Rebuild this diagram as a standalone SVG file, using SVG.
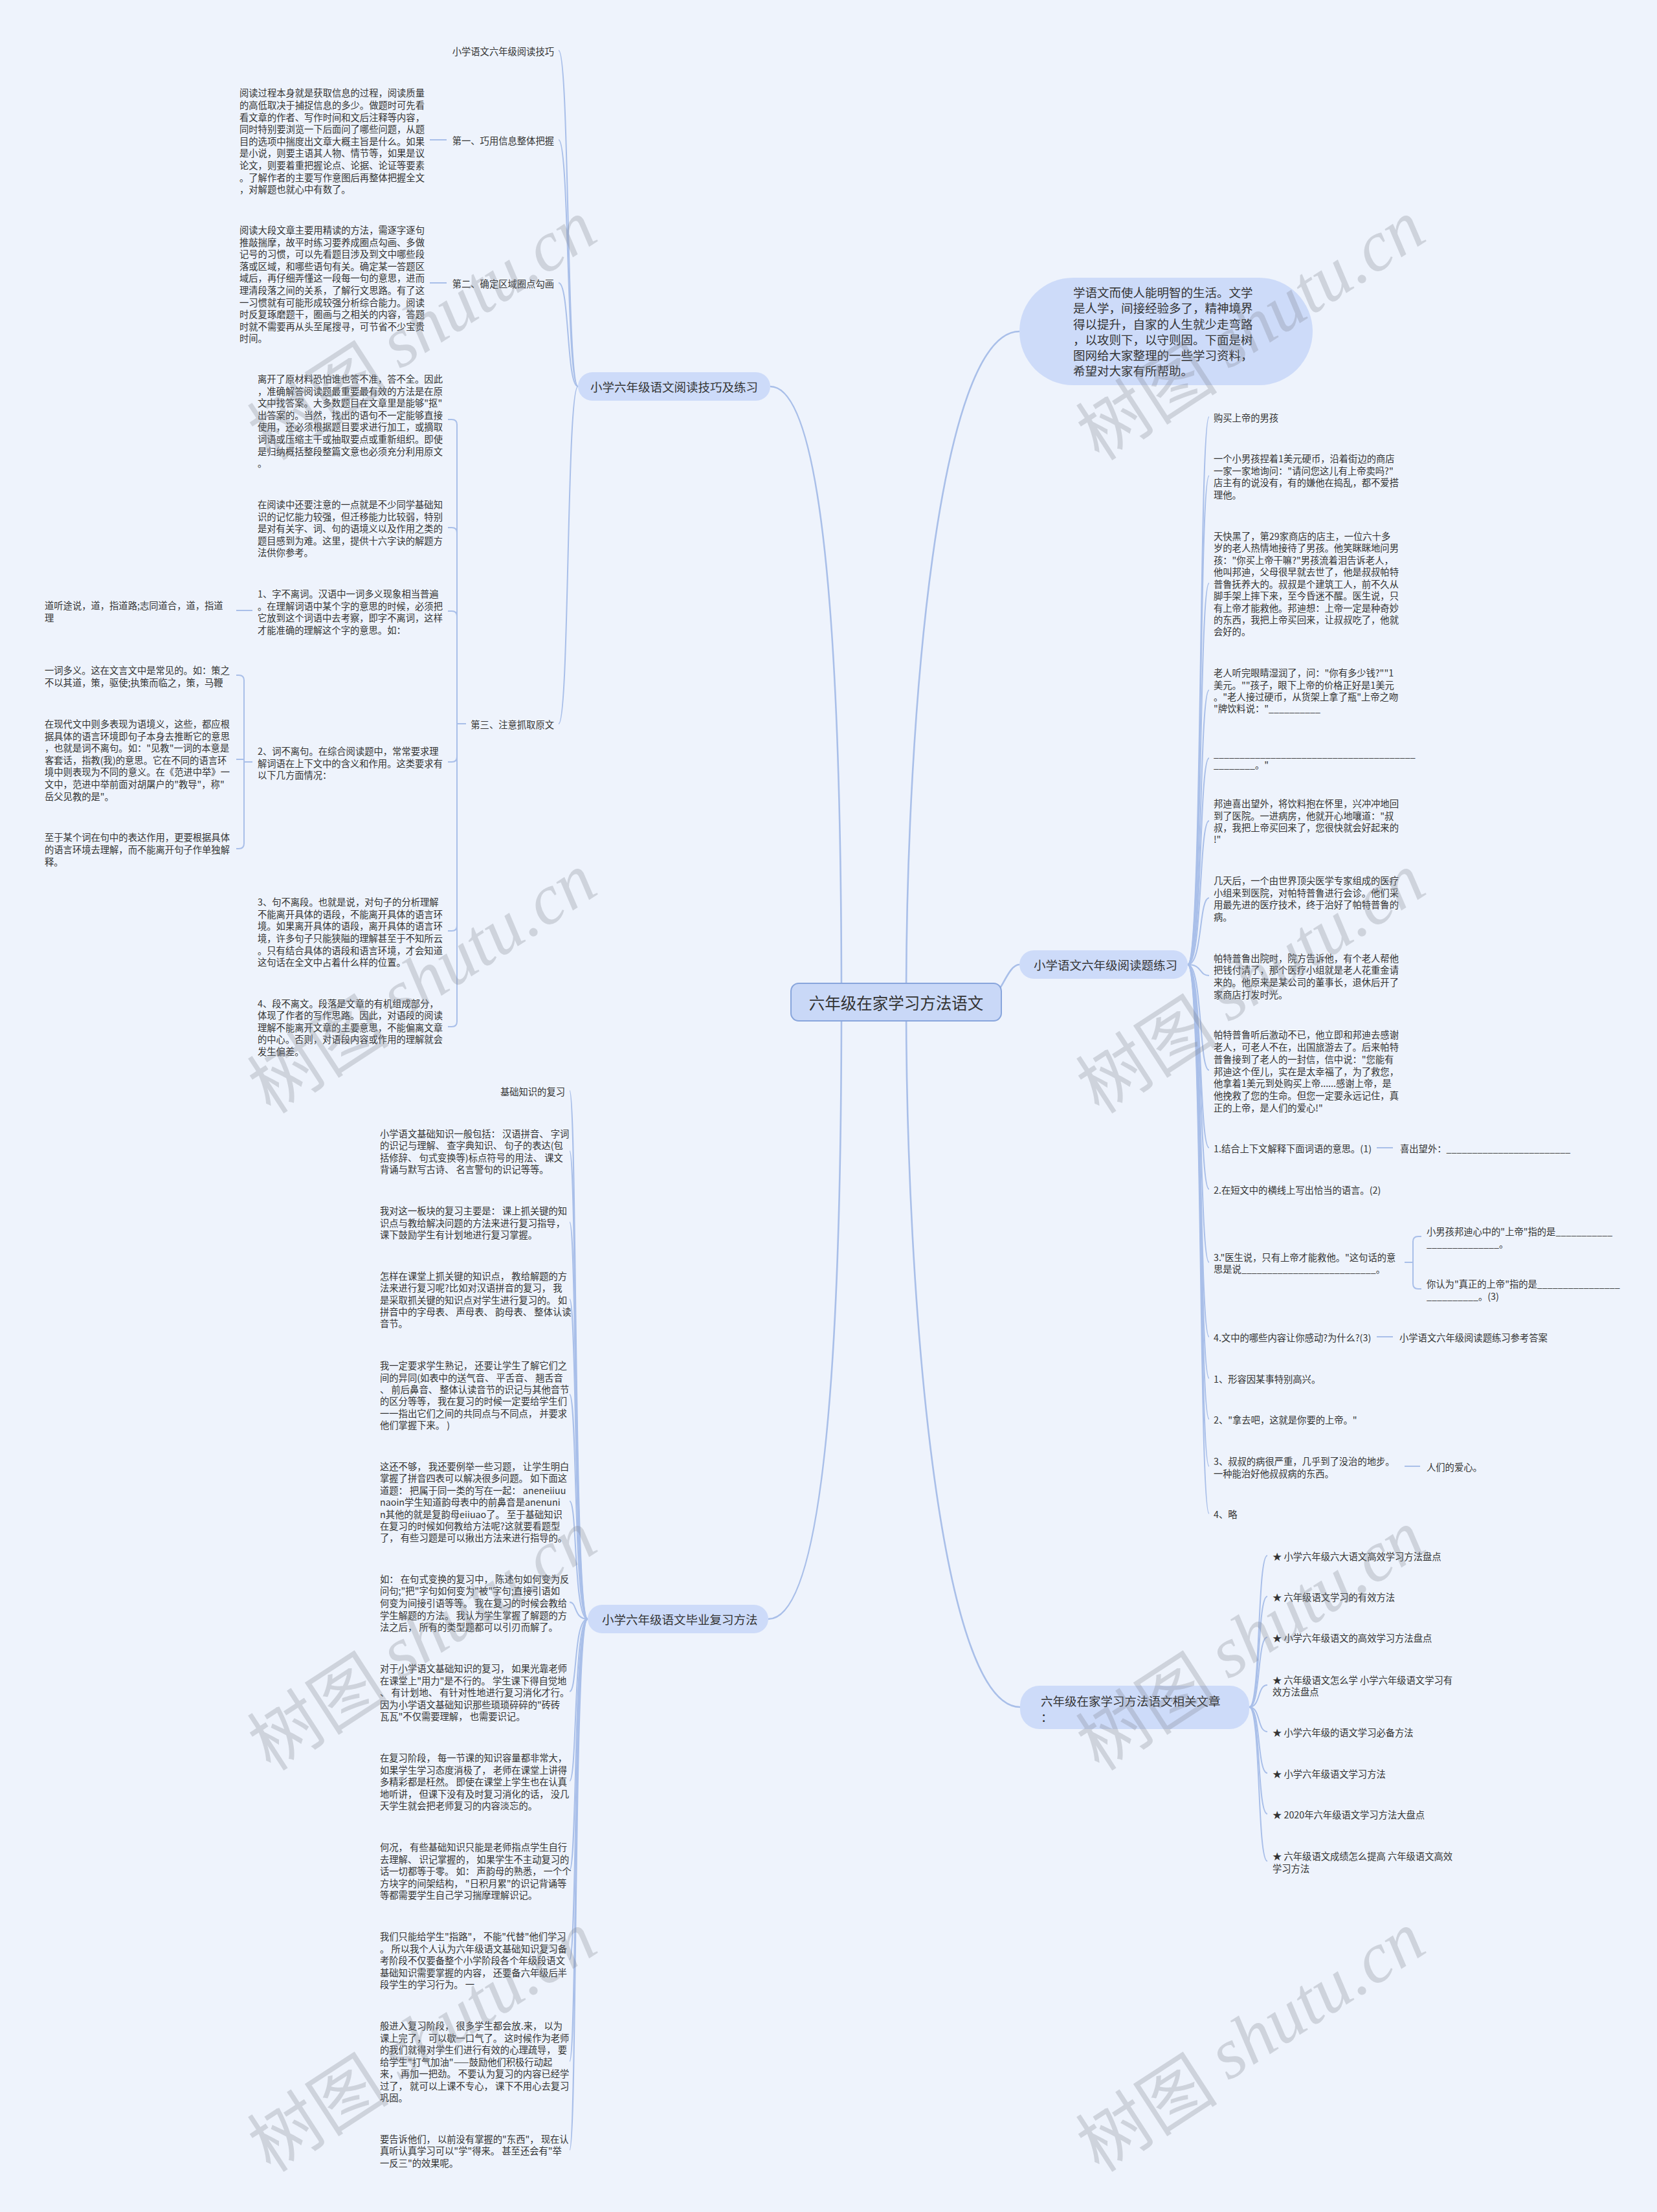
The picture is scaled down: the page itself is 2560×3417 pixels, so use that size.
<svg xmlns="http://www.w3.org/2000/svg" width="2560" height="3417" viewBox="0 0 2560 3417">
<style>
text{font-family:'Noto Sans CJK SC','Noto Sans',sans-serif;fill:#333;dominant-baseline:central}
.s{font-size:14.3px}
.m{font-size:18.5px}
.c{font-size:24.5px}
.e{text-anchor:end}
.ln{fill:none;stroke:#a9bfe9;stroke-width:2}
.lm{fill:none;stroke:#a9bfe9;stroke-width:2.6}
.box{fill:#cddbf9}
.wm{font-size:110px;fill:#7d828c;opacity:.28;text-anchor:middle}
.wm tspan.l{font-family:'Liberation Serif',serif;font-style:italic}
</style>
<rect x="0" y="0" width="2560" height="3417" fill="#eef3fc"/>
<g id="connectors">
<path class="lm" d="M1190 597 C1290 597 1300 1200 1300 1548"/>
<path class="lm" d="M1187 2501 C1290 2501 1300 1900 1300 1548"/>
<path class="lm" d="M1575 512 C1450 512 1400 1100 1400 1548"/>
<path class="lm" d="M1575 1490 C1555 1490 1545 1548 1520 1548"/>
<path class="lm" d="M1576 2637 C1450 2637 1400 2000 1400 1548"/>
<path class="ln" d="M893 597 C875 597 880 78 863 78"/>
<path class="ln" d="M893 597 C875 597 880 216 863 216"/>
<path class="ln" d="M893 597 C875 597 880 437 863 437"/>
<path class="ln" d="M893 597 C875 597 880 1118 863 1118"/>
<path class="ln" d="M664 216 H690 M664 437 H690"/>
<path class="ln" d="M720 1118 H706 V656 Q706 648 698 648 H692"/>
<path class="ln" d="M720 1118 H706 V823 Q706 815 698 815 H692"/>
<path class="ln" d="M720 1118 H706 V952 Q706 944 698 944 H692"/>
<path class="ln" d="M720 1118 H706 V1169 Q706 1177 698 1177 H692"/>
<path class="ln" d="M720 1118 H706 V1430 Q706 1438 698 1438 H692"/>
<path class="ln" d="M720 1118 H706 V1578 Q706 1586 698 1586 H692"/>
<path class="ln" d="M365 943 H390"/>
<path class="ln" d="M390 1177 H377 V1051 Q377 1043 369 1043 H365"/>
<path class="ln" d="M390 1177 H377 V1173 H365"/>
<path class="ln" d="M390 1177 H377 V1303 Q377 1311 369 1311 H365"/>
<path class="ln" d="M908 2501 C886 2501 892 1685 880 1685"/>
<path class="ln" d="M908 2501 C886 2501 892 1778 880 1778"/>
<path class="ln" d="M908 2501 C886 2501 892 1888 880 1888"/>
<path class="ln" d="M908 2501 C886 2501 892 2007 880 2007"/>
<path class="ln" d="M908 2501 C886 2501 892 2154 880 2154"/>
<path class="ln" d="M908 2501 C886 2501 892 2319 880 2319"/>
<path class="ln" d="M908 2501 C886 2501 892 2475 880 2475"/>
<path class="ln" d="M908 2501 C886 2501 892 2613 880 2613"/>
<path class="ln" d="M908 2501 C886 2501 892 2751 880 2751"/>
<path class="ln" d="M908 2501 C886 2501 892 2889 880 2889"/>
<path class="ln" d="M908 2501 C886 2501 892 3027 880 3027"/>
<path class="ln" d="M908 2501 C886 2501 892 3184 880 3184"/>
<path class="ln" d="M908 2501 C886 2501 892 3321 880 3321"/>
<path class="ln" d="M1835 1490 C1858 1490 1852 644 1868 644"/>
<path class="ln" d="M1835 1490 C1858 1490 1852 735 1868 735"/>
<path class="ln" d="M1835 1490 C1858 1490 1852 901 1868 901"/>
<path class="ln" d="M1835 1490 C1858 1490 1852 1066 1868 1066"/>
<path class="ln" d="M1835 1490 C1858 1490 1852 1171 1868 1171"/>
<path class="ln" d="M1835 1490 C1858 1490 1852 1268 1868 1268"/>
<path class="ln" d="M1835 1490 C1858 1490 1852 1387 1868 1387"/>
<path class="ln" d="M1835 1490 C1858 1490 1852 1507 1868 1507"/>
<path class="ln" d="M1835 1490 C1858 1490 1852 1653 1868 1653"/>
<path class="ln" d="M1835 1490 C1858 1490 1852 1773 1868 1773"/>
<path class="ln" d="M1835 1490 C1858 1490 1852 1837 1868 1837"/>
<path class="ln" d="M1835 1490 C1858 1490 1852 1950 1868 1950"/>
<path class="ln" d="M1835 1490 C1858 1490 1852 2065 1868 2065"/>
<path class="ln" d="M1835 1490 C1858 1490 1852 2129 1868 2129"/>
<path class="ln" d="M1835 1490 C1858 1490 1852 2192 1868 2192"/>
<path class="ln" d="M1835 1490 C1858 1490 1852 2265 1868 2265"/>
<path class="ln" d="M1835 1490 C1858 1490 1852 2338 1868 2338"/>
<path class="ln" d="M2127 1773 H2152 M2127 2065 H2152 M2170 2265 H2194"/>
<path class="ln" d="M2170 1950 H2183 V1918 Q2183 1910 2191 1910 H2196"/>
<path class="ln" d="M2170 1950 H2183 V1983 Q2183 1991 2191 1991 H2196"/>
<path class="ln" d="M1930 2637 C1948 2637 1942 2403 1958 2403"/>
<path class="ln" d="M1930 2637 C1948 2637 1942 2466 1958 2466"/>
<path class="ln" d="M1930 2637 C1948 2637 1942 2529 1958 2529"/>
<path class="ln" d="M1930 2637 C1948 2637 1942 2603 1958 2603"/>
<path class="ln" d="M1930 2637 C1948 2637 1942 2675 1958 2675"/>
<path class="ln" d="M1930 2637 C1948 2637 1942 2739 1958 2739"/>
<path class="ln" d="M1930 2637 C1948 2637 1942 2802 1958 2802"/>
<path class="ln" d="M1930 2637 C1948 2637 1942 2875 1958 2875"/>
</g>
<g id="root">
<rect x="1222" y="1519" width="325" height="58" rx="12" fill="#c9d8f7" stroke="#88a5dc" stroke-width="2"/>
<text class="c" x="1384.5" y="1548" text-anchor="middle">六年级在家学习方法语文</text>
</g>
<g id="n-A">
<rect class="box" x="893" y="575" width="297" height="44" rx="22"/>
<text class="m" x="912" y="597">小学六年级语文阅读技巧及练习</text>
</g>
<g id="n-B">
<rect class="box" x="908" y="2479" width="279" height="44" rx="22"/>
<text class="m" x="930" y="2501">小学六年级语文毕业复习方法</text>
</g>
<g id="n-C">
<rect class="box" x="1575" y="429" width="453" height="166" rx="83"/>
<text class="m"><tspan x="1658" y="451">学语文而使人能明智的生活。文学</tspan><tspan x="1658" y="475">是人学，间接经验多了，精神境界</tspan><tspan x="1658" y="500">得以提升，自家的人生就少走弯路</tspan><tspan x="1658" y="524">，以攻则下，以守则固。下面是树</tspan><tspan x="1658" y="548">图网给大家整理的一些学习资料，</tspan><tspan x="1658" y="572">希望对大家有所帮助。</tspan></text>
</g>
<g id="n-D">
<rect class="box" x="1575" y="1468" width="260" height="44" rx="22"/>
<text class="m" x="1597" y="1490">小学语文六年级阅读题练习</text>
</g>
<g id="n-E">
<rect class="box" x="1576" y="2604" width="354" height="67" rx="30"/>
<text class="m"><tspan x="1608" y="2627">六年级在家学习方法语文相关文章</tspan><tspan x="1608" y="2652">：</tspan></text>
</g>
<g id="n-A1"><text class="s e" x="856" y="78">小学语文六年级阅读技巧</text></g>
<g id="n-A2"><text class="s e" x="856" y="216">第一、巧用信息整体把握</text></g>
<g id="n-A2-1"><text class="s"><tspan x="370" y="142">阅读过程本身就是获取信息的过程，阅读质量</tspan><tspan x="370" y="161">的高低取决于捕捉信息的多少。做题时可先看</tspan><tspan x="370" y="180">看文章的作者、写作时间和文后注释等内容，</tspan><tspan x="370" y="198">同时特别要浏览一下后面问了哪些问题，从题</tspan><tspan x="370" y="217">目的选项中揣度出文章大概主旨是什么。如果</tspan><tspan x="370" y="235">是小说，则要主语其人物、情节等，如果是议</tspan><tspan x="370" y="254">论文，则要着重把握论点、论据、论证等要素</tspan><tspan x="370" y="273">。了解作者的主要写作意图后再整体把握全文</tspan><tspan x="370" y="291">，对解题也就心中有数了。</tspan></text></g>
<g id="n-A3"><text class="s e" x="856" y="437">第二、确定区域圈点勾画</text></g>
<g id="n-A3-1"><text class="s"><tspan x="370" y="354">阅读大段文章主要用精读的方法，需逐字逐句</tspan><tspan x="370" y="373">推敲揣摩，故平时练习要养成圈点勾画、多做</tspan><tspan x="370" y="391">记号的习惯，可以先看题目涉及到文中哪些段</tspan><tspan x="370" y="410">落或区域，和哪些语句有关。确定某一答题区</tspan><tspan x="370" y="428">域后，再仔细弄懂这一段每一句的意思，进而</tspan><tspan x="370" y="447">理清段落之间的关系，了解行文思路。有了这</tspan><tspan x="370" y="466">一习惯就有可能形成较强分析综合能力。阅读</tspan><tspan x="370" y="484">时反复琢磨题干，圈画与之相关的内容，答题</tspan><tspan x="370" y="503">时就不需要再从头至尾搜寻，可节省不少宝贵</tspan><tspan x="370" y="521">时间。</tspan></text></g>
<g id="n-A4"><text class="s e" x="856" y="1118">第三、注意抓取原文</text></g>
<g id="n-A4-1"><text class="s"><tspan x="398" y="584">离开了原材料恐怕谁也答不准，答不全。因此</tspan><tspan x="398" y="603">，准确解答阅读题最重要最有效的方法是在原</tspan><tspan x="398" y="621">文中找答案。大多数题目在文章里是能够"抠"</tspan><tspan x="398" y="640">出答案的。当然，找出的语句不一定能够直接</tspan><tspan x="398" y="658">使用，还必须根据题目要求进行加工，或摘取</tspan><tspan x="398" y="677">词语或压缩主干或抽取要点或重新组织。即使</tspan><tspan x="398" y="696">是归纳概括整段整篇文意也必须充分利用原文</tspan><tspan x="398" y="714">。</tspan></text></g>
<g id="n-A4-2"><text class="s"><tspan x="398" y="778">在阅读中还要注意的一点就是不少同学基础知</tspan><tspan x="398" y="797">识的记忆能力较强，但迁移能力比较弱，特别</tspan><tspan x="398" y="815">是对有关字、词、句的语境义以及作用之类的</tspan><tspan x="398" y="834">题目感到为难。这里，提供十六字诀的解题方</tspan><tspan x="398" y="852">法供你参考。</tspan></text></g>
<g id="n-A4-3"><text class="s"><tspan x="398" y="916">1、字不离词。汉语中一词多义现象相当普遍</tspan><tspan x="398" y="935">。在理解词语中某个字的意思的时候，必须把</tspan><tspan x="398" y="953">它放到这个词语中去考察，即字不离词，这样</tspan><tspan x="398" y="972">才能准确的理解这个字的意思。如：</tspan></text></g>
<g id="n-A4-3-1"><text class="s"><tspan x="69" y="934">道听途说，道，指道路;志同道合，道，指道</tspan><tspan x="69" y="953">理</tspan></text></g>
<g id="n-A4-4"><text class="s"><tspan x="398" y="1159">2、词不离句。在综合阅读题中，常常要求理</tspan><tspan x="398" y="1178">解词语在上下文中的含义和作用。这类要求有</tspan><tspan x="398" y="1196">以下几方面情况：</tspan></text></g>
<g id="n-A4-4-1"><text class="s"><tspan x="69" y="1034">一词多义。这在文言文中是常见的。如：策之</tspan><tspan x="69" y="1053">不以其道，策，驱使;执策而临之，策，马鞭</tspan></text></g>
<g id="n-A4-4-2"><text class="s"><tspan x="69" y="1117">在现代文中则多表现为语境义，这些，都应根</tspan><tspan x="69" y="1136">据具体的语言环境即句子本身去推断它的意思</tspan><tspan x="69" y="1154">，也就是词不离句。如："见教"一词的本意是</tspan><tspan x="69" y="1173">客套话，指教(我)的意思。它在不同的语言环</tspan><tspan x="69" y="1191">境中则表现为不同的意义。在《范进中举》一</tspan><tspan x="69" y="1210">文中，范进中举前面对胡屠户的"教导"，称"</tspan><tspan x="69" y="1229">岳父见教的是"。</tspan></text></g>
<g id="n-A4-4-3"><text class="s"><tspan x="69" y="1292">至于某个词在句中的表达作用，更要根据具体</tspan><tspan x="69" y="1311">的语言环境去理解，而不能离开句子作单独解</tspan><tspan x="69" y="1330">释。</tspan></text></g>
<g id="n-A4-5"><text class="s"><tspan x="398" y="1392">3、句不离段。也就是说，对句子的分析理解</tspan><tspan x="398" y="1411">不能离开具体的语段，不能离开具体的语言环</tspan><tspan x="398" y="1429">境。如果离开具体的语段，离开具体的语言环</tspan><tspan x="398" y="1448">境，许多句子只能狭隘的理解甚至于不知所云</tspan><tspan x="398" y="1467">。只有结合具体的语段和语言环境，才会知道</tspan><tspan x="398" y="1485">这句话在全文中占着什么样的位置。</tspan></text></g>
<g id="n-A4-6"><text class="s"><tspan x="398" y="1549">4、段不离文。段落是文章的有机组成部分，</tspan><tspan x="398" y="1567">体现了作者的写作思路。因此，对语段的阅读</tspan><tspan x="398" y="1586">理解不能离开文章的主要意思，不能偏离文章</tspan><tspan x="398" y="1604">的中心。否则，对语段内容或作用的理解就会</tspan><tspan x="398" y="1623">发生偏差。</tspan></text></g>
<g id="n-B0"><text class="s e" x="873" y="1685">基础知识的复习</text></g>
<g id="n-B1"><text class="s"><tspan x="587" y="1750">小学语文基础知识一般包括： 汉语拼音、 字词</tspan><tspan x="587" y="1768">的识记与理解、 查字典知识、 句子的表达(包</tspan><tspan x="587" y="1787">括修辞、 句式变换等)标点符号的用法、 课文</tspan><tspan x="587" y="1805">背诵与默写古诗、 名言警句的识记等等。</tspan></text></g>
<g id="n-B2"><text class="s"><tspan x="587" y="1869">我对这一板块的复习主要是： 课上抓关键的知</tspan><tspan x="587" y="1888">识点与教给解决问题的方法来进行复习指导，</tspan><tspan x="587" y="1906">课下鼓励学生有计划地进行复习掌握。</tspan></text></g>
<g id="n-B3"><text class="s"><tspan x="587" y="1970">怎样在课堂上抓关键的知识点， 教给解题的方</tspan><tspan x="587" y="1988">法来进行复习呢?比如对汉语拼音的复习， 我</tspan><tspan x="587" y="2007">是采取抓关键的知识点对学生进行复习的。 如</tspan><tspan x="587" y="2025">拼音中的字母表、 声母表、 韵母表、 整体认读</tspan><tspan x="587" y="2043">音节。</tspan></text></g>
<g id="n-B4"><text class="s"><tspan x="587" y="2108">我一定要求学生熟记， 还要让学生了解它们之</tspan><tspan x="587" y="2127">间的异同(如表中的送气音、 平舌音、 翘舌音</tspan><tspan x="587" y="2145">、 前后鼻音、 整体认读音节的识记与其他音节</tspan><tspan x="587" y="2163">的区分等等， 我在复习的时候一定要给学生们</tspan><tspan x="587" y="2182">一一指出它们之间的共同点与不同点， 并要求</tspan><tspan x="587" y="2200">他们掌握下来。 )</tspan></text></g>
<g id="n-B5"><text class="s"><tspan x="587" y="2264">这还不够， 我还要例举一些习题， 让学生明白</tspan><tspan x="587" y="2282">掌握了拼音四表可以解决很多问题。 如下面这</tspan><tspan x="587" y="2301">道题： 把属于同一类的写在一起： aneneiiuu</tspan><tspan x="587" y="2319">naoin学生知道韵母表中的前鼻音是anenuni</tspan><tspan x="587" y="2338">n其他的就是复韵母eiiuao了。 至于基础知识</tspan><tspan x="587" y="2356">在复习的时候如何教给方法呢?这就要看题型</tspan><tspan x="587" y="2374">了， 有些习题是可以揪出方法来进行指导的。</tspan></text></g>
<g id="n-B6"><text class="s"><tspan x="587" y="2438">如： 在句式变换的复习中， 陈述句如何变为反</tspan><tspan x="587" y="2456">问句;"把"字句如何变为"被"字句;直接引语如</tspan><tspan x="587" y="2475">何变为间接引语等等。 我在复习的时候会教给</tspan><tspan x="587" y="2494">学生解题的方法。 我认为学生掌握了解题的方</tspan><tspan x="587" y="2512">法之后， 所有的类型题都可以引刃而解了。</tspan></text></g>
<g id="n-B7"><text class="s"><tspan x="587" y="2576">对于小学语文基础知识的复习， 如果光靠老师</tspan><tspan x="587" y="2595">在课堂上"用力"是不行的。 学生课下得自觉地</tspan><tspan x="587" y="2613">、 有计划地、 有针对性地进行复习消化才行。</tspan><tspan x="587" y="2632">因为小学语文基础知识那些琐琐碎碎的"砖砖</tspan><tspan x="587" y="2650">瓦瓦"不仅需要理解， 也需要识记。</tspan></text></g>
<g id="n-B8"><text class="s"><tspan x="587" y="2714">在复习阶段， 每一节课的知识容量都非常大，</tspan><tspan x="587" y="2733">如果学生学习态度消极了， 老师在课堂上讲得</tspan><tspan x="587" y="2751">多精彩都是枉然。 即使在课堂上学生也在认真</tspan><tspan x="587" y="2770">地听讲， 但课下没有及时复习消化的话， 没几</tspan><tspan x="587" y="2788">天学生就会把老师复习的内容淡忘的。</tspan></text></g>
<g id="n-B9"><text class="s"><tspan x="587" y="2852">何况， 有些基础知识只能是老师指点学生自行</tspan><tspan x="587" y="2871">去理解、 识记掌握的， 如果学生不主动复习的</tspan><tspan x="587" y="2889">话一切都等于零。 如： 声韵母的熟悉， 一个个</tspan><tspan x="587" y="2908">方块字的间架结构， "日积月累"的识记背诵等</tspan><tspan x="587" y="2926">等都需要学生自己学习揣摩理解识记。</tspan></text></g>
<g id="n-B10"><text class="s"><tspan x="587" y="2990">我们只能给学生"指路"， 不能"代替"他们学习</tspan><tspan x="587" y="3009">。 所以我个人认为六年级语文基础知识复习备</tspan><tspan x="587" y="3027">考阶段不仅要备整个小学阶段各个年级段语文</tspan><tspan x="587" y="3046">基础知识需要掌握的内容， 还要备六年级后半</tspan><tspan x="587" y="3064">段学生的学习行为。 一</tspan></text></g>
<g id="n-B11"><text class="s"><tspan x="587" y="3128">般进入复习阶段， 很多学生都会放.来， 以为</tspan><tspan x="587" y="3147">课上完了， 可以歇一口气了。 这时候作为老师</tspan><tspan x="587" y="3165">的我们就得对学生们进行有效的心理疏导， 要</tspan><tspan x="587" y="3184">给学生"打气加油"——鼓励他们积极行动起</tspan><tspan x="587" y="3202">来， 再加一把劲。 不要认为复习的内容已经学</tspan><tspan x="587" y="3221">过了， 就可以上课不专心， 课下不用心去复习</tspan><tspan x="587" y="3239">巩固。</tspan></text></g>
<g id="n-B12"><text class="s"><tspan x="587" y="3303">要告诉他们， 以前没有掌握的"东西"， 现在认</tspan><tspan x="587" y="3321">真听认真学习可以"学"得来。 甚至还会有"举</tspan><tspan x="587" y="3340">一反三"的效果呢。</tspan></text></g>
<g id="n-D0"><text class="s" x="1875" y="644">购买上帝的男孩</text></g>
<g id="n-D1"><text class="s"><tspan x="1875" y="707">一个小男孩捏着1美元硬币，沿着街边的商店</tspan><tspan x="1875" y="726">一家一家地询问："请问您这儿有上帝卖吗?"</tspan><tspan x="1875" y="744">店主有的说没有，有的嫌他在捣乱，都不爱搭</tspan><tspan x="1875" y="763">理他。</tspan></text></g>
<g id="n-D2"><text class="s"><tspan x="1875" y="827">天快黑了，第29家商店的店主，一位六十多</tspan><tspan x="1875" y="845">岁的老人热情地接待了男孩。他笑眯眯地问男</tspan><tspan x="1875" y="864">孩："你买上帝干嘛?"男孩流着泪告诉老人，</tspan><tspan x="1875" y="882">他叫邦迪，父母很早就去世了，他是叔叔帕特</tspan><tspan x="1875" y="901">普鲁抚养大的。叔叔是个建筑工人，前不久从</tspan><tspan x="1875" y="919">脚手架上摔下来，至今昏迷不醒。医生说，只</tspan><tspan x="1875" y="938">有上帝才能救他。邦迪想：上帝一定是种奇妙</tspan><tspan x="1875" y="956">的东西，我把上帝买回来，让叔叔吃了，他就</tspan><tspan x="1875" y="974">会好的。</tspan></text></g>
<g id="n-D3"><text class="s"><tspan x="1875" y="1038">老人听完眼睛湿润了，问："你有多少钱?""1</tspan><tspan x="1875" y="1057">美元。""孩子，眼下上帝的价格正好是1美元</tspan><tspan x="1875" y="1075">。"老人接过硬币，从货架上拿了瓶"上帝之吻</tspan><tspan x="1875" y="1093">"牌饮料说："__________</tspan></text></g>
<g id="n-D4"><text class="s"><tspan x="1875" y="1163">_______________________________________</tspan><tspan x="1875" y="1180">________。"</tspan></text></g>
<g id="n-D5"><text class="s"><tspan x="1875" y="1240">邦迪喜出望外，将饮料抱在怀里，兴冲冲地回</tspan><tspan x="1875" y="1259">到了医院。一进病房，他就开心地嚷道："叔</tspan><tspan x="1875" y="1277">叔，我把上帝买回来了，您很快就会好起来的</tspan><tspan x="1875" y="1295">!"</tspan></text></g>
<g id="n-D6"><text class="s"><tspan x="1875" y="1359">几天后，一个由世界顶尖医学专家组成的医疗</tspan><tspan x="1875" y="1378">小组来到医院，对帕特普鲁进行会诊。他们采</tspan><tspan x="1875" y="1396">用最先进的医疗技术，终于治好了帕特普鲁的</tspan><tspan x="1875" y="1415">病。</tspan></text></g>
<g id="n-D7"><text class="s"><tspan x="1875" y="1479">帕特普鲁出院时，院方告诉他，有个老人帮他</tspan><tspan x="1875" y="1497">把钱付清了，那个医疗小组就是老人花重金请</tspan><tspan x="1875" y="1516">来的。他原来是某公司的董事长，退休后开了</tspan><tspan x="1875" y="1535">家商店打发时光。</tspan></text></g>
<g id="n-D8"><text class="s"><tspan x="1875" y="1597">帕特普鲁听后激动不已，他立即和邦迪去感谢</tspan><tspan x="1875" y="1616">老人，可老人不在，出国旅游去了。后来帕特</tspan><tspan x="1875" y="1635">普鲁接到了老人的一封信，信中说："您能有</tspan><tspan x="1875" y="1654">邦迪这个侄儿，实在是太幸福了，为了救您，</tspan><tspan x="1875" y="1672">他拿着1美元到处购买上帝......感谢上帝，是</tspan><tspan x="1875" y="1691">他挽救了您的生命。但您一定要永远记住，真</tspan><tspan x="1875" y="1710">正的上帝，是人们的爱心!"</tspan></text></g>
<g id="n-D9"><text class="s" x="1875" y="1773">1.结合上下文解释下面词语的意思。(1)</text></g>
<g id="n-D9-1"><text class="s" x="2163" y="1773">喜出望外：________________________</text></g>
<g id="n-D10"><text class="s" x="1875" y="1837">2.在短文中的横线上写出恰当的语言。(2)</text></g>
<g id="n-D11"><text class="s"><tspan x="1875" y="1941">3."医生说，只有上帝才能救他。"这句话的意</tspan><tspan x="1875" y="1959">思是说__________________________。</tspan></text></g>
<g id="n-D11-1"><text class="s"><tspan x="2204" y="1901">小男孩邦迪心中的"上帝"指的是___________</tspan><tspan x="2204" y="1920">______________。</tspan></text></g>
<g id="n-D11-2"><text class="s"><tspan x="2204" y="1982">你认为"真正的上帝"指的是________________</tspan><tspan x="2204" y="2001">__________。(3)</tspan></text></g>
<g id="n-D12"><text class="s" x="1875" y="2065">4.文中的哪些内容让你感动?为什么?(3)</text></g>
<g id="n-D12-1"><text class="s" x="2162" y="2065">小学语文六年级阅读题练习参考答案</text></g>
<g id="n-D13"><text class="s" x="1875" y="2129">1、形容因某事特别高兴。</text></g>
<g id="n-D14"><text class="s" x="1875" y="2192">2、"拿去吧，这就是你要的上帝。"</text></g>
<g id="n-D15"><text class="s"><tspan x="1875" y="2256">3、叔叔的病很严重，几乎到了没治的地步。</tspan><tspan x="1875" y="2275">一种能治好他叔叔病的东西。</tspan></text></g>
<g id="n-D15-1"><text class="s" x="2204" y="2265">人们的爱心。</text></g>
<g id="n-D16"><text class="s" x="1875" y="2338">4、略</text></g>
<g id="n-E1"><text class="s" x="1966" y="2403">★ 小学六年级六大语文高效学习方法盘点</text></g>
<g id="n-E2"><text class="s" x="1966" y="2466">★ 六年级语文学习的有效方法</text></g>
<g id="n-E3"><text class="s" x="1966" y="2529">★ 小学六年级语文的高效学习方法盘点</text></g>
<g id="n-E4"><text class="s"><tspan x="1966" y="2594">★ 六年级语文怎么学 小学六年级语文学习有</tspan><tspan x="1966" y="2612">效方法盘点</tspan></text></g>
<g id="n-E5"><text class="s" x="1966" y="2675">★ 小学六年级的语文学习必备方法</text></g>
<g id="n-E6"><text class="s" x="1966" y="2739">★ 小学六年级语文学习方法</text></g>
<g id="n-E7"><text class="s" x="1966" y="2802">★ 2020年六年级语文学习方法大盘点</text></g>
<g id="n-E8"><text class="s"><tspan x="1966" y="2866">★ 六年级语文成绩怎么提高 六年级语文高效</tspan><tspan x="1966" y="2885">学习方法</tspan></text></g>
<g id="watermark">
<text class="wm" x="650" y="506" transform="rotate(-33 650 506)">树图 <tspan class="l">shutu.cn</tspan></text>
<text class="wm" x="1930" y="506" transform="rotate(-33 1930 506)">树图 <tspan class="l">shutu.cn</tspan></text>
<text class="wm" x="650" y="1515" transform="rotate(-33 650 1515)">树图 <tspan class="l">shutu.cn</tspan></text>
<text class="wm" x="1930" y="1515" transform="rotate(-33 1930 1515)">树图 <tspan class="l">shutu.cn</tspan></text>
<text class="wm" x="650" y="2530" transform="rotate(-33 650 2530)">树图 <tspan class="l">shutu.cn</tspan></text>
<text class="wm" x="1930" y="2530" transform="rotate(-33 1930 2530)">树图 <tspan class="l">shutu.cn</tspan></text>
<text class="wm" x="650" y="3150" transform="rotate(-33 650 3150)">树图 <tspan class="l">shutu.cn</tspan></text>
<text class="wm" x="1930" y="3150" transform="rotate(-33 1930 3150)">树图 <tspan class="l">shutu.cn</tspan></text>
</g>
</svg>
